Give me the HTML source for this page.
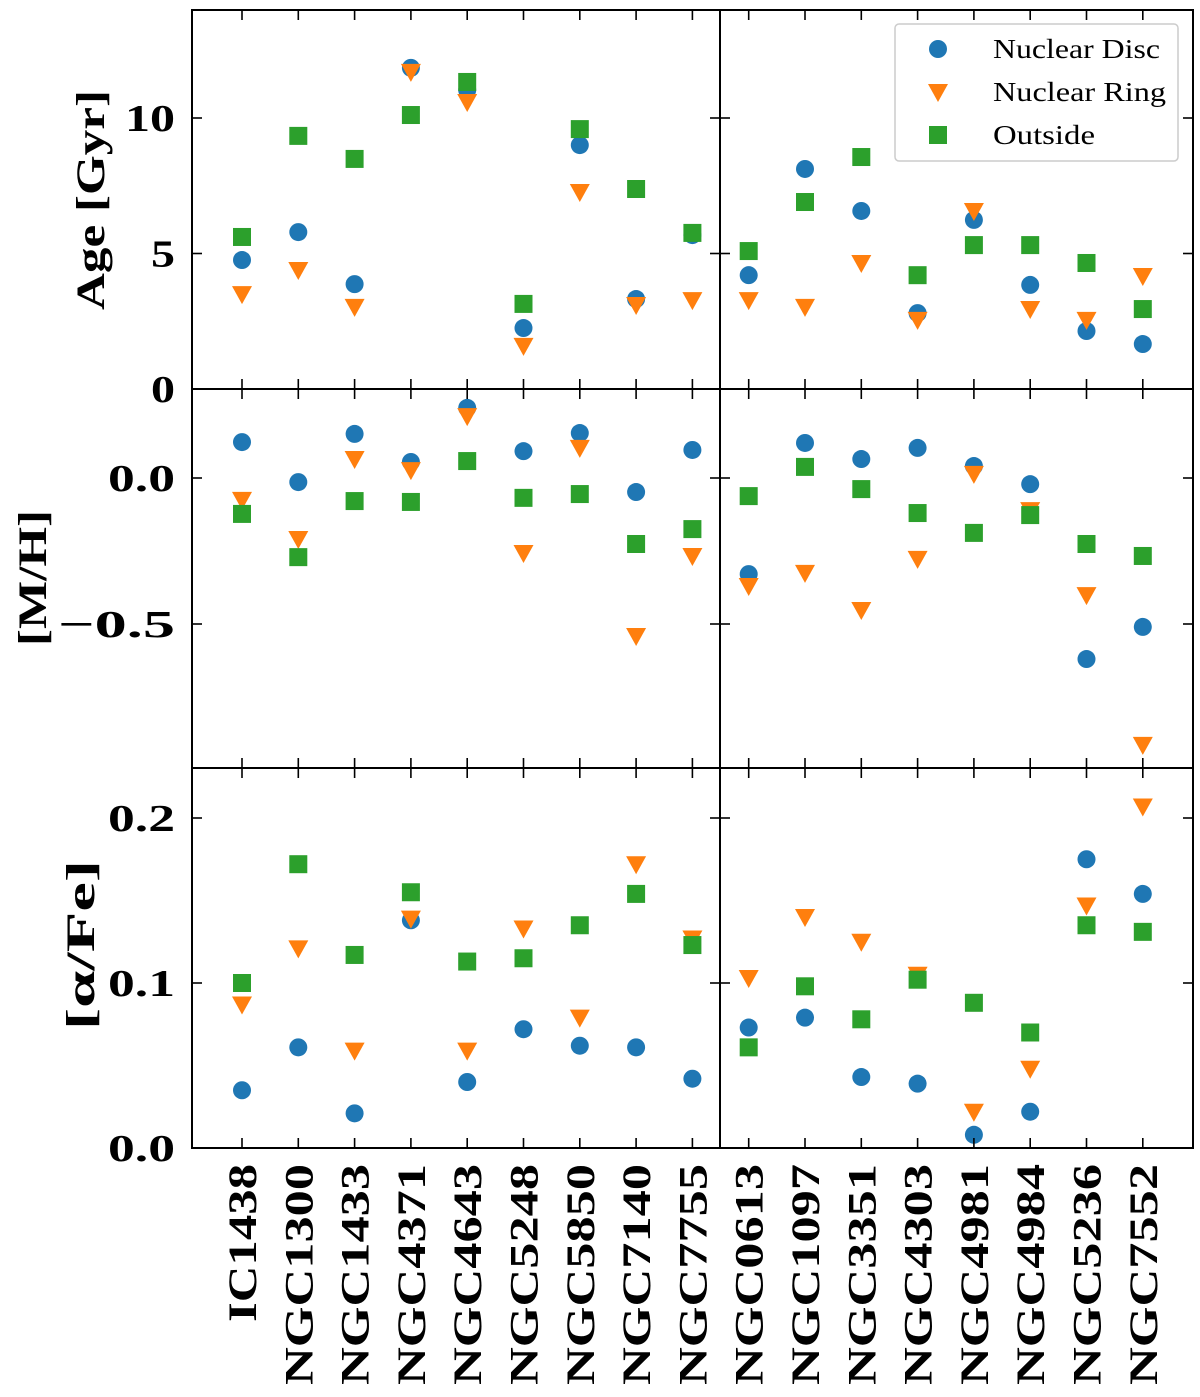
<!DOCTYPE html>
<html><head><meta charset="utf-8"><style>
html,body{margin:0;padding:0;background:#fff}
svg{display:block}
text{font-family:"Liberation Serif",serif;font-weight:bold;fill:#000}
</style></head><body>
<svg id="chart" width="1200" height="1397" viewBox="0 0 1200 1397" xmlns="http://www.w3.org/2000/svg"></svg>
<script>
const galaxies=["IC1438","NGC1300","NGC1433","NGC4371","NGC4643","NGC5248","NGC5850","NGC7140","NGC7755","NGC0613","NGC1097","NGC3351","NGC4303","NGC4981","NGC4984","NGC5236","NGC7552"];
const ageDisc=[4.76,5.79,3.87,11.85,11.03,2.25,9.0,3.32,5.68,4.2,8.12,6.57,2.8,6.24,3.84,2.14,1.66];
const ageRing=[3.5,4.39,3.03,11.7,10.59,1.59,7.27,3.1,3.28,3.28,3.03,4.65,2.55,6.57,2.95,2.55,4.17];
const ageOut=[5.61,9.34,8.49,10.11,11.33,3.14,9.59,7.38,5.76,5.09,6.9,8.56,4.2,5.31,5.31,4.65,2.95];
const mhDisc=[0.123,-0.014,0.151,0.055,0.240,0.092,0.154,-0.048,0.096,-0.329,0.120,0.065,0.103,0.041,-0.021,-0.620,-0.510];
const mhRing=[-0.075,-0.209,0.065,0.027,0.212,-0.257,0.103,-0.541,-0.267,-0.370,-0.325,-0.452,-0.277,0.014,-0.110,-0.401,-0.914];
const mhOut=[-0.123,-0.271,-0.079,-0.082,0.058,-0.068,-0.055,-0.226,-0.175,-0.062,0.038,-0.038,-0.120,-0.188,-0.127,-0.226,-0.267];
const afDisc=[0.035,0.061,0.021,0.138,0.040,0.072,0.062,0.061,0.042,0.073,0.079,0.043,0.039,0.008,0.022,0.175,0.154];
const afRing=[0.087,0.121,0.059,0.139,0.059,0.133,0.079,0.172,0.127,0.103,0.140,0.125,0.105,0.022,0.048,0.147,0.207];
const afOut=[0.100,0.172,0.117,0.155,0.113,0.115,0.135,0.154,0.123,0.061,0.098,0.078,0.102,0.088,0.070,0.135,0.131];
const ageTicks=[0,5,10];
const ageTickLabels=["0","5","10"];
const mhTicks=[0,-0.5];
const mhTickLabels=["0.0","\u22120.5"];
const afTicks=[0,0.1,0.2];
const afTickLabels=["0.0","0.1","0.2"];

const NS="http://www.w3.org/2000/svg";
const svg=document.getElementById('chart');
function el(tag,attrs,parent){const e=document.createElementNS(NS,tag);for(const k in attrs)e.setAttribute(k,attrs[k]);(parent||svg).appendChild(e);return e;}
const X0=192,X1=1193,SPLIT=720;
function xs(i){return 242+56.3*i;}
const rows=[
 {name:"age",top:10,bot:389,y:v=>389-27.1*v,d:[ageDisc,ageRing,ageOut],ticks:ageTicks,labels:ageTickLabels,title:"Age [Gyr]",ty:200,tx:104,tl:220},
 {name:"metallicity",top:389,bot:768,y:v=>478-292*v,d:[mhDisc,mhRing,mhOut],ticks:mhTicks,labels:mhTickLabels,title:"[M/H]",ty:578,tx:46,tl:136},
 {name:"alpha-fe",top:768,bot:1148,y:v=>1148-1650*v,d:[afDisc,afRing,afOut],ticks:afTicks,labels:afTickLabels,title:"[\u03b1/Fe]",ty:945,tx:94,tl:170}
];
const colors=["#1f77b4","#ff7f0e","#2ca02c"];
function marker(kind,x,y,g){
  let m;
  if(kind===0)m=el('circle',{cx:x,cy:y,r:9,fill:colors[0]},g);
  else if(kind===1)m=el('polygon',{points:`${x-10},${y-8} ${x+10},${y-8} ${x},${y+10}`,fill:colors[1]},g);
  else m=el('rect',{x:x-9,y:y-9,width:18,height:18,fill:colors[2]},g);
  return m;
}
function tickLen(s){return s.length===1?24:(s.length===2?50:(s.length===3?67:117));}
rows.forEach(r=>{
  const g=el('g',{});
  
  
  r.d.forEach((arr,k)=>{
    arr.forEach((v,i)=>{
      const m=marker(k,xs(i),r.y(v),g);
      
      
    });
  });
  el('rect',{x:X0,y:r.top,width:X1-X0,height:r.bot-r.top,fill:'none',stroke:'#000','stroke-width':2},g);
  el('line',{x1:SPLIT,y1:r.top,x2:SPLIT,y2:r.bot,stroke:'#000','stroke-width':2},g);
  galaxies.forEach((n,i)=>{
    const x=xs(i);
    el('line',{x1:x,y1:r.bot,x2:x,y2:r.bot-10,stroke:'#000','stroke-width':1.6},g);
    el('line',{x1:x,y1:r.top,x2:x,y2:r.top+10,stroke:'#000','stroke-width':1.6},g);
  });
  r.ticks.forEach((t,j)=>{
    const y=r.y(t);
    [X0,SPLIT].forEach(xx=>el('line',{x1:xx,y1:y,x2:xx+10,y2:y,stroke:'#000','stroke-width':1.6},g));
    [SPLIT,X1].forEach(xx=>el('line',{x1:xx,y1:y,x2:xx-10,y2:y,stroke:'#000','stroke-width':1.6},g));
    const s=r.labels[j];
    const tl=el('text',{x:175,y:y+13,'font-size':38,'text-anchor':'end',textLength:tickLen(s),lengthAdjust:'spacingAndGlyphs'},g);
    tl.textContent=s;
    
    
  });
  const tt=el('text',{x:0,y:0,'font-size':40,'text-anchor':'middle',textLength:r.tl,lengthAdjust:'spacingAndGlyphs',transform:`translate(${r.tx},${r.ty}) rotate(-90)`},g);
  tt.textContent=r.title;
  
  
});
galaxies.forEach((n,i)=>{
  const t=el('text',{x:0,y:0,'font-size':40,'text-anchor':'end',textLength:n.length===6?158:221,lengthAdjust:'spacingAndGlyphs',transform:`translate(${xs(i)+14},1164) rotate(-90)`});
  t.textContent=n;
  
  
});
const lg=el('g',{});


el('rect',{x:895,y:24,width:283,height:137,rx:4,fill:'#fff',stroke:'#ccc','stroke-width':1.5},lg);
const legLens=[167,173,102];
["Nuclear Disc","Nuclear Ring","Outside"].forEach((s,k)=>{
  const y=49+43*k;
  const m=marker(k,938,y,lg);
  
  
  const t=el('text',{x:993,y:y+9,'font-size':27,textLength:legLens[k],lengthAdjust:'spacingAndGlyphs'},lg);
  t.style.fontWeight='normal';
  t.textContent=s;
  
  
});
</script>
</body></html>
